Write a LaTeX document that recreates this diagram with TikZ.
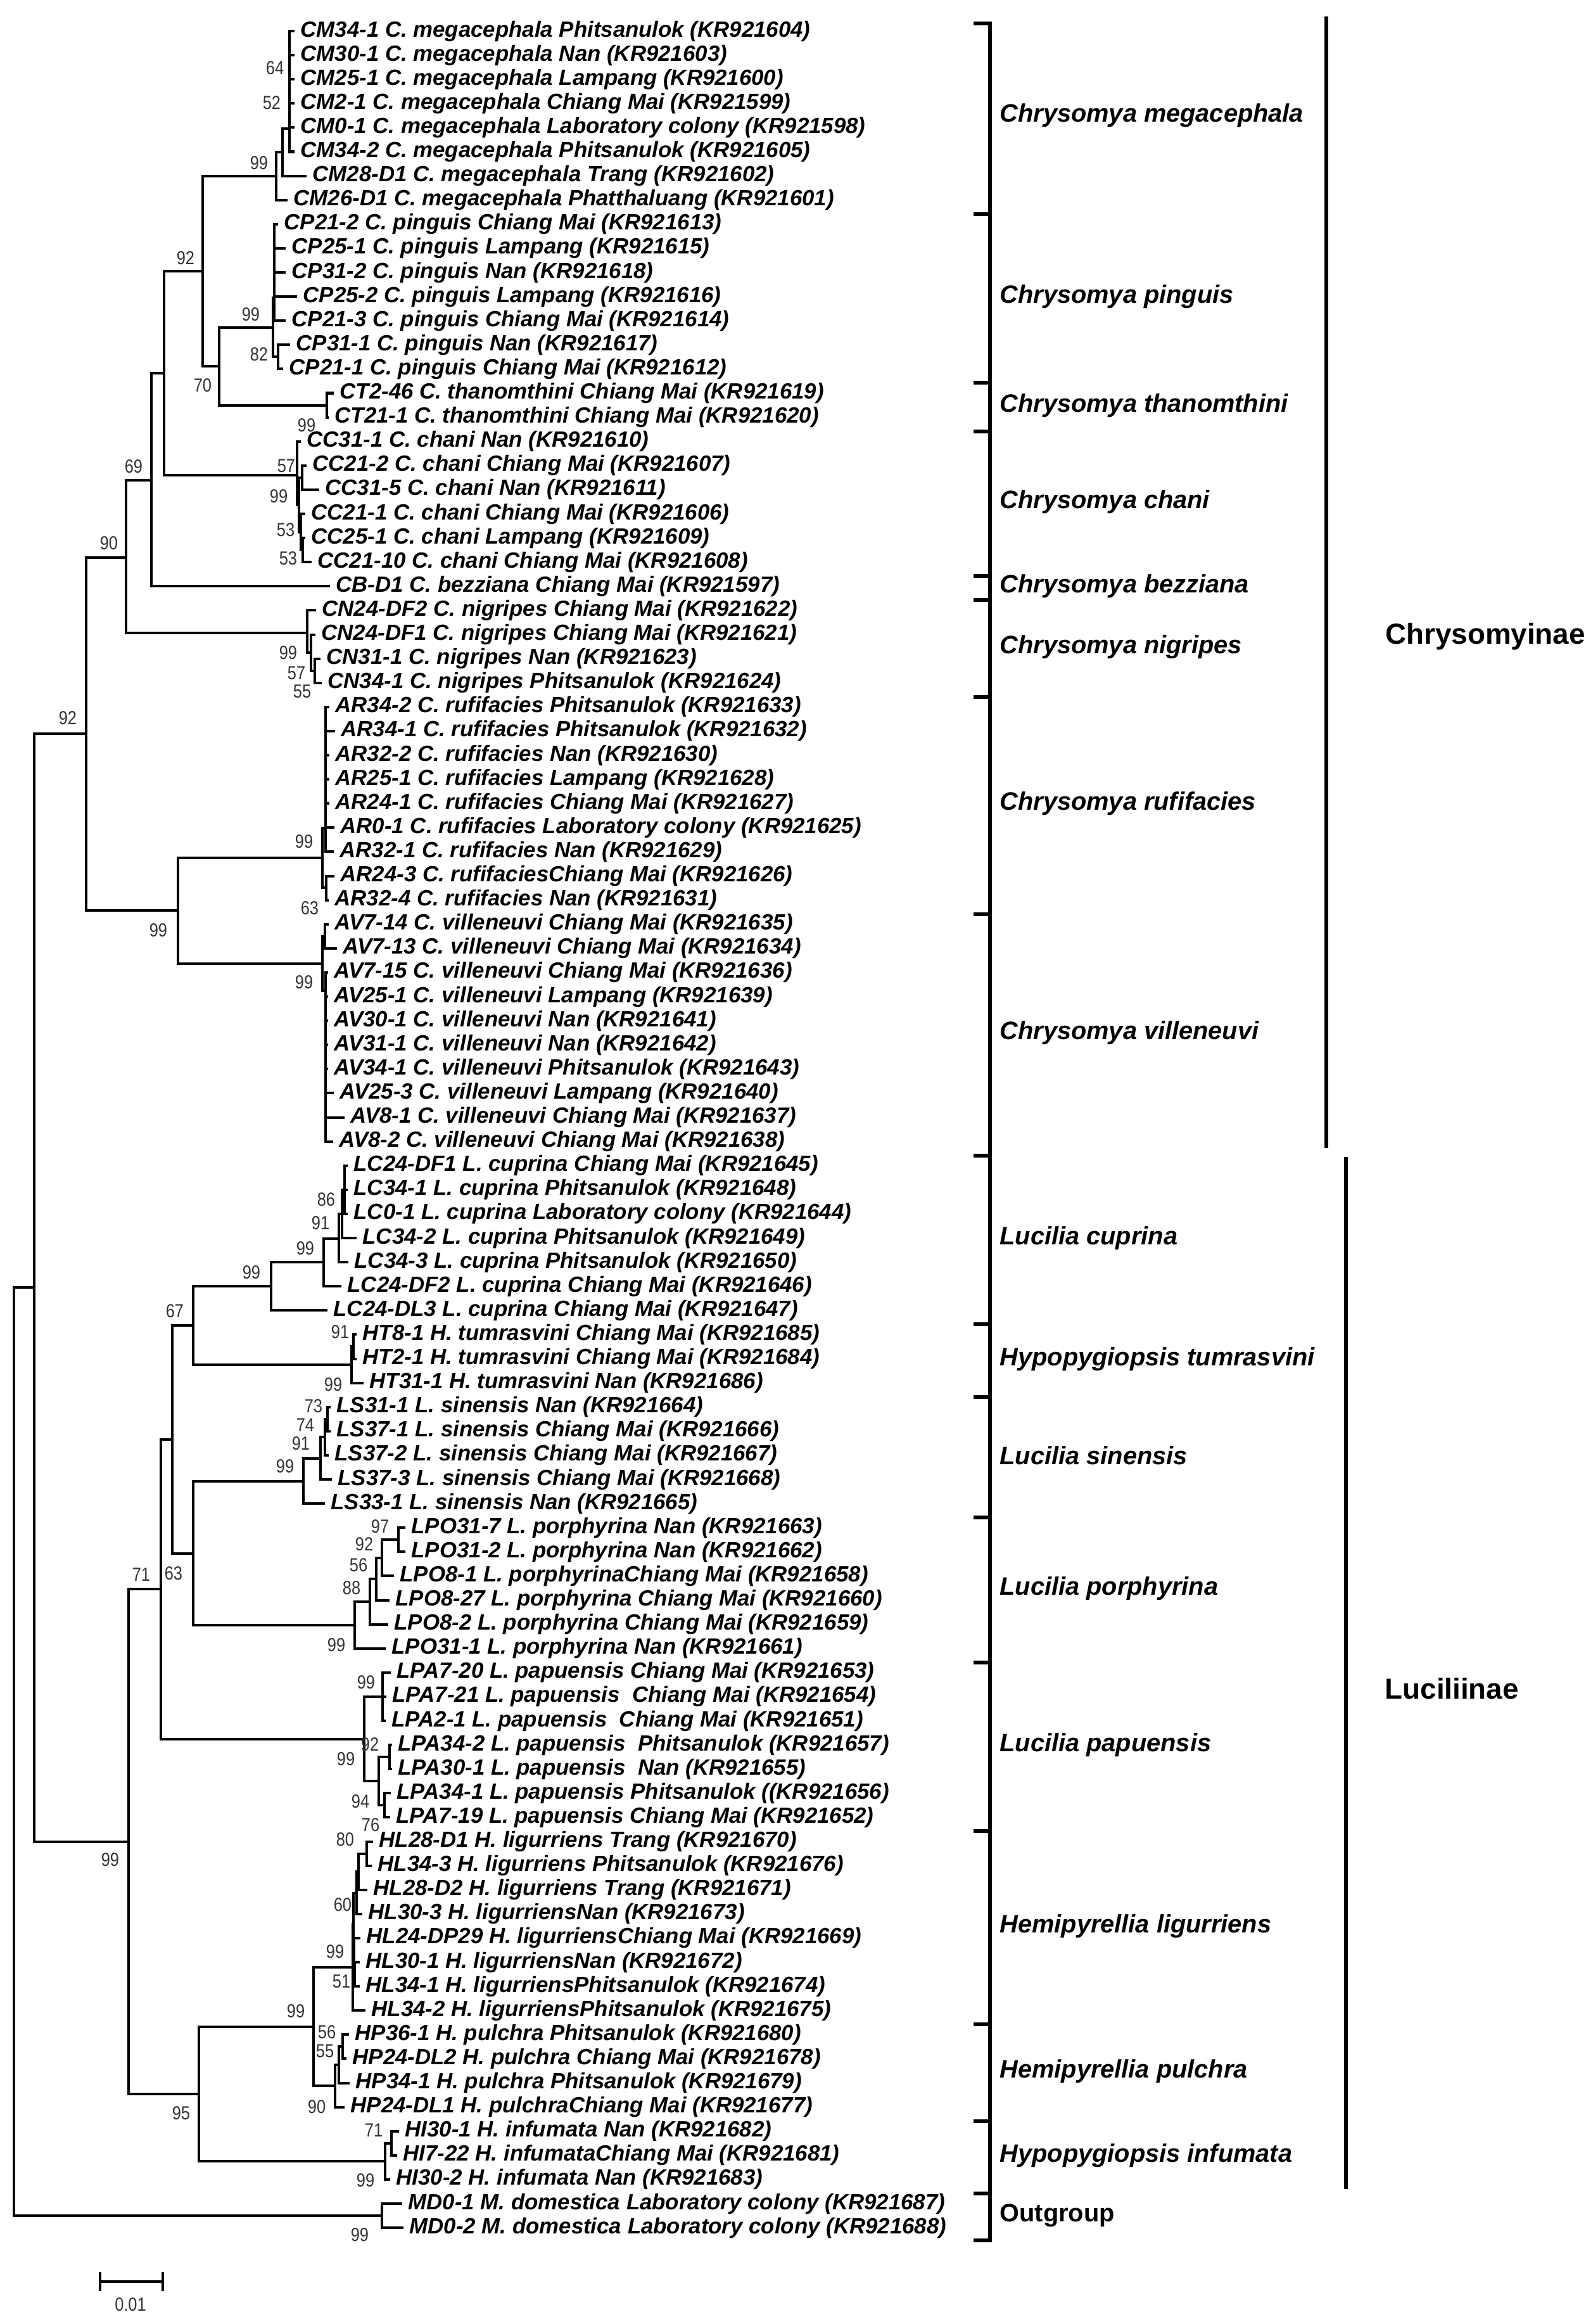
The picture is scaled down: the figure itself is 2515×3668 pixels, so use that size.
\documentclass[tikz,border=0pt]{standalone}
\usepackage{fontspec}
\setmainfont{Liberation Sans}
\newfontfamily\bootfont{Liberation Sans}[FakeStretch=0.85]
\usetikzlibrary{positioning}

\tikzset{
  branch/.style={line width=1.15pt, line cap=rect},
  leaf/.style={inner sep=0pt, font=\fontsize{9.9}{11}\selectfont\bfseries\itshape},
  boot/.style={inner sep=0pt, text=black!80, font=\bootfont\fontsize{8.5}{9}\selectfont},
  species/.style={anchor=west, inner sep=0pt, font=\fontsize{11.3}{13}\selectfont\bfseries\itshape},
  family/.style={anchor=west, inner sep=0pt, font=\fontsize{13}{15}\selectfont\bfseries},
  bracket/.style={line width=1.5pt, line cap=rect},
  subfam/.style={line width=1.8pt}
}

\begin{document}
\begin{tikzpicture}[x=0.01cm, y=-0.01cm]
\useasboundingbox (0,0) rectangle (2515,3668);

% leaves (tip of branch / label)
\foreach \tip/\txt [count=\i] in {
  463/{CM34-1 C. megacephala Phitsanulok (KR921604)},
  463/{CM30-1 C. megacephala Nan (KR921603)},
  463/{CM25-1 C. megacephala Lampang (KR921600)},
  463/{CM2-1 C. megacephala Chiang Mai (KR921599)},
  463/{CM0-1 C. megacephala Laboratory colony (KR921598)},
  463/{CM34-2 C. megacephala Phitsanulok (KR921605)},
  482/{CM28-D1 C. megacephala Trang (KR921602)},
  452/{CM26-D1 C. megacephala Phatthaluang (KR921601)},
  437/{CP21-2 C. pinguis Chiang Mai (KR921613)},
  449/{CP25-1 C. pinguis Lampang (KR921615)},
  449/{CP31-2 C. pinguis Nan (KR921618)},
  467/{CP25-2 C. pinguis Lampang (KR921616)},
  449/{CP21-3 C. pinguis Chiang Mai (KR921614)},
  456/{CP31-1 C. pinguis Nan (KR921617)},
  445/{CP21-1 C. pinguis Chiang Mai (KR921612)},
  525/{CT2-46 C. thanomthini Chiang Mai (KR921619)},
  517/{CT21-1 C. thanomthini Chiang Mai (KR921620)},
  473/{CC31-1 C. chani Nan (KR921610)},
  482/{CC21-2 C. chani Chiang Mai (KR921607)},
  502/{CC31-5 C. chani Nan (KR921611)},
  480/{CC21-1 C. chani Chiang Mai (KR921606)},
  480/{CC25-1 C. chani Lampang (KR921609)},
  490/{CC21-10 C. chani Chiang Mai (KR921608)},
  519/{CB-D1 C. bezziana Chiang Mai (KR921597)},
  497/{CN24-DF2 C. nigripes Chiang Mai (KR921622)},
  496/{CN24-DF1 C. nigripes Chiang Mai (KR921621)},
  504/{CN31-1 C. nigripes Nan (KR921623)},
  506/{CN34-1 C. nigripes Phitsanulok (KR921624)},
  518/{AR34-2 C. rufifacies Phitsanulok (KR921633)},
  527/{AR34-1 C. rufifacies Phitsanulok (KR921632)},
  518/{AR32-2 C. rufifacies Nan (KR921630)},
  518/{AR25-1 C. rufifacies Lampang (KR921628)},
  518/{AR24-1 C. rufifacies Chiang Mai (KR921627)},
  526/{AR0-1 C. rufifacies Laboratory colony (KR921625)},
  525/{AR32-1 C. rufifacies Nan (KR921629)},
  526/{AR24-3 C. rufifaciesChiang Mai (KR921626)},
  517/{AR32-4 C. rufifacies Nan (KR921631)},
  517/{AV7-14 C. villeneuvi Chiang Mai (KR921635)},
  530/{AV7-13 C. villeneuvi Chiang Mai (KR921634)},
  516/{AV7-15 C. villeneuvi Chiang Mai (KR921636)},
  516/{AV25-1 C. villeneuvi Lampang (KR921639)},
  516/{AV30-1 C. villeneuvi Nan (KR921641)},
  516/{AV31-1 C. villeneuvi Nan (KR921642)},
  516/{AV34-1 C. villeneuvi Phitsanulok (KR921643)},
  525/{AV25-3 C. villeneuvi Lampang (KR921640)},
  542/{AV8-1 C. villeneuvi Chiang Mai (KR921637)},
  524/{AV8-2 C. villeneuvi Chiang Mai (KR921638)},
  547/{LC24-DF1 L. cuprina Chiang Mai (KR921645)},
  547/{LC34-1 L. cuprina Phitsanulok (KR921648)},
  547/{LC0-1 L. cuprina Laboratory colony (KR921644)},
  561/{LC34-2 L. cuprina Phitsanulok (KR921649)},
  548/{LC34-3 L. cuprina Phitsanulok (KR921650)},
  537/{LC24-DF2 L. cuprina Chiang Mai (KR921646)},
  515/{LC24-DL3 L. cuprina Chiang Mai (KR921647)},
  561/{HT8-1 H. tumrasvini Chiang Mai (KR921685)},
  561/{HT2-1 H. tumrasvini Chiang Mai (KR921684)},
  572/{HT31-1 H. tumrasvini Nan (KR921686)},
  520/{LS31-1 L. sinensis Nan (KR921664)},
  520/{LS37-1 L. sinensis Chiang Mai (KR921666)},
  517/{LS37-2 L. sinensis Chiang Mai (KR921667)},
  522/{LS37-3 L. sinensis Chiang Mai (KR921668)},
  511/{LS33-1 L. sinensis Nan (KR921665)},
  638/{LPO31-7 L. porphyrina Nan (KR921663)},
  638/{LPO31-2 L. porphyrina Nan (KR921662)},
  620/{LPO8-1 L. porphyrinaChiang Mai (KR921658)},
  613/{LPO8-27 L. porphyrina Chiang Mai (KR921660)},
  611/{LPO8-2 L. porphyrina Chiang Mai (KR921659)},
  607/{LPO31-1 L. porphyrina Nan (KR921661)},
  615/{LPA7-20 L. papuensis Chiang Mai (KR921653)},
  608/{LPA7-21 L. papuensis~ Chiang Mai (KR921654)},
  607/{LPA2-1 L. papuensis~ Chiang Mai (KR921651)},
  617/{LPA34-2 L. papuensis~ Phitsanulok (KR921657)},
  617/{LPA30-1 L. papuensis~ Nan (KR921655)},
  615/{LPA34-1 L. papuensis Phitsanulok ((KR921656)},
  614/{LPA7-19 L. papuensis Chiang Mai (KR921652)},
  587/{HL28-D1 H. ligurriens Trang (KR921670)},
  585/{HL34-3 H. ligurriens Phitsanulok (KR921676)},
  578/{HL28-D2 H. ligurriens Trang (KR921671)},
  570/{HL30-3 H. ligurriensNan (KR921673)},
  567/{HL24-DP29 H. ligurriensChiang Mai (KR921669)},
  566/{HL30-1 H. ligurriensNan (KR921672)},
  566/{HL34-1 H. ligurriensPhitsanulok (KR921674)},
  575/{HL34-2 H. ligurriensPhitsanulok (KR921675)},
  549/{HP36-1 H. pulchra Phitsanulok (KR921680)},
  545/{HP24-DL2 H. pulchra Chiang Mai (KR921678)},
  550/{HP34-1 H. pulchra Phitsanulok (KR921679)},
  542/{HP24-DL1 H. pulchraChiang Mai (KR921677)},
  628/{HI30-1 H. infumata Nan (KR921682)},
  625/{HI7-22 H. infumataChiang Mai (KR921681)},
  614/{HI30-2 H. infumata Nan (KR921683)},
  633/{MD0-1 M. domestica Laboratory colony (KR921687)},
  635/{MD0-2 M. domestica Laboratory colony (KR921688)}}{
  \coordinate (t\i) at (\tip,{49+38.1*(\i-1)});
  \node[leaf, right=0.11cm of t\i] (l\i) {\txt};
}

% internal nodes
\foreach \n/\x/\y in {root/22/2765, ing/54/2032, og/603/3497,
  chry/136/1158, n90/199/880, n69/239/758, nu/259/589, n92/320/428,
  mega/436/278, mf/446/240, me/457/203, n70/346/578,
  ping/431/517, pd/433/470, pq/439/563, thn/516/640,
  chani/469/750, ch2/472/797, ch3/477/754, ch4/475/840, ch5/478/868,
  nig/485/999, nn2/491/1030, nn1/497/1059,
  nrv/281/1437, rufi/509/1354, ra/514/1307, rb/515/1401,
  ville/509/1521, va/513/1478, vb/514/1564,
  luc/203/2907, n71/254/2508, nx/272/2272, n67/305/2092,
  cup/428/2030, c3/511/1992, cc/535/1955, cb/540/1916, ca/544/1878,
  tum/555/2154, tu1/558/2125,
  n63/305/2452, sin/479/2338, s3/506/2302, s2/513/2268, s1/517/2240,
  por/560/2565, p4/584/2528, p3/594/2492, p2/603/2459, p1/629/2430,
  pap/575/2745, pa1/604/2678, pa3/598/2811, pa2/615/2773, pa4/607/2849,
  n95/314/3305, hemi/495/3199,
  lig/557/3105, lt/558/3037, lc/563/2988, lb/566/2954, la/579/2926,
  ld/559/3088, le/560/3116,
  pul/529/3292, pu2/535/3259, pu1/541/3230,
  inf/608/3411, inf1/618/3383}
  \coordinate (\n) at (\x,\y);

% branches
\foreach \p/\c in {root/ing, root/og, ing/chry, ing/luc,
  chry/n90, chry/nrv, n90/n69, n90/nig, n69/nu, n69/t24, nu/n92, nu/chani,
  n92/mega, n92/n70, mega/mf, mega/t8, mf/me, mf/t7,
  me/t1, me/t2, me/t3, me/t4, me/t5, me/t6,
  n70/ping, n70/thn, ping/pd, ping/pq,
  pd/t9, pd/t10, pd/t11, pd/t12, pd/t13, pq/t14, pq/t15, thn/t16, thn/t17,
  chani/t18, chani/ch2, ch2/ch3, ch2/ch4, ch3/t19, ch3/t20,
  ch4/t21, ch4/ch5, ch5/t22, ch5/t23,
  nig/t25, nig/nn2, nn2/t26, nn2/nn1, nn1/t27, nn1/t28,
  nrv/rufi, nrv/ville, rufi/ra, rufi/rb,
  ra/t29, ra/t30, ra/t31, ra/t32, ra/t33, ra/t34, ra/t35, rb/t36, rb/t37,
  ville/va, ville/vb, va/t38, va/t39,
  vb/t40, vb/t41, vb/t42, vb/t43, vb/t44, vb/t45, vb/t46, vb/t47,
  luc/n71, luc/n95, n71/nx, n71/pap, nx/n67, nx/n63,
  n67/cup, n67/tum, cup/c3, cup/t54, c3/cc, c3/t53, cc/cb, cc/t52,
  cb/ca, cb/t51, ca/t48, ca/t49, ca/t50,
  tum/tu1, tum/t57, tu1/t55, tu1/t56,
  n63/sin, n63/por, sin/s3, sin/t62, s3/s2, s3/t61, s2/s1, s2/t60, s1/t58, s1/t59,
  por/p4, por/t68, p4/p3, p4/t67, p3/p2, p3/t66, p2/p1, p2/t65, p1/t63, p1/t64,
  pap/pa1, pap/pa3, pa1/t69, pa1/t70, pa1/t71,
  pa3/pa2, pa3/pa4, pa2/t72, pa2/t73, pa4/t74, pa4/t75,
  n95/hemi, n95/inf, hemi/lig, hemi/pul,
  lig/lt, lig/t83, lt/lc, lt/ld, lc/lb, lc/t79, lb/la, lb/t78, la/t76, la/t77,
  ld/t80, ld/le, le/t81, le/t82,
  pul/pu2, pul/t87, pu2/pu1, pu2/t86, pu1/t84, pu1/t85,
  inf/inf1, inf/t90, inf1/t88, inf1/t89,
  og/t91, og/t92}
  \draw[branch] (\p) |- (\c);

% bootstrap values
\foreach \x/\y/\v [count=\i] in {434/107/64, 429/162/52, 409/257/99,
  293/407/92, 396/496/99, 409/559/82, 320/608/70,
  484/671/99, 211/736/69, 172/857/90,
  452/735/57, 440/783/99, 451/836/53, 455/881/53,
  455/1030/99, 468/1062/57, 477/1091/55,
  107/1133/92, 480/1328/99, 489/1433/63, 250/1468/99, 480/1550/99,
  515/1893/86, 506/1930/91, 482/1970/99, 397/2008/99, 276/2069/67,
  537/2102/91, 526/2185/99,
  495/2219/73, 482/2249/74, 475/2278/91, 450/2314/99,
  600/2409/97, 575/2437/92, 566/2470/56, 555/2506/88, 531/2596/99,
  223/2485/71, 274/2483/63,
  578/2655/99, 584/2753/92, 546/2776/99, 569/2843/94, 585/2880/76, 545/2903/80,
  174/2935/99,
  541/3006/60, 529/3080/99, 539/3127/51, 467/3174/99,
  516/3207/56, 513/3237/55, 500/3325/90, 590/3362/71, 577/3441/99,
  286/3335/95, 568/3527/99}
  \node[boot] (b\i) at (\x,\y) {\v};

% species brackets
\coordinate (brtop) at (1563,37);
\coordinate (brbot) at (1563,3536);
\draw[bracket] (brtop) -- (brbot);
\foreach \y in {37,338,604,681,909,947,1100,1443,1824,2090,2205,2395,2624,2890,3195,3348,3462,3536}
  \draw[bracket] (1540,\y) -- (brtop |- 0,\y);

\foreach \y/\txt [count=\i] in {182/Chrysomya megacephala, 468/Chrysomya pinguis,
  640/Chrysomya thanomthini, 792/Chrysomya chani, 925/Chrysomya bezziana,
  1021/Chrysomya nigripes, 1268/Chrysomya rufifacies, 1630/Chrysomya villeneuvi,
  1954/Lucilia cuprina, 2145/Hypopygiopsis tumrasvini, 2297/Lucilia sinensis,
  2507/Lucilia porphyrina, 2754/Lucilia papuensis, 3040/Hemipyrellia ligurriens,
  3269/Hemipyrellia pulchra, 3402/Hypopygiopsis infumata}
  \node[species] (sp\i) at (1578,\y) {\txt};
\node[species, font=\fontsize{11.3}{13}\selectfont\bfseries] (spout) at (1578,3497) {Outgroup};

% subfamilies
\draw[subfam] (2094,26) coordinate (chtop) -- (2094,1812) coordinate (chbot);
\draw[subfam] (2125,1826) coordinate (lutop) -- (2125,3455) coordinate (lubot);
\node[family] (chrysomyinae) at (2187,1005) {Chrysomyinae};
\node[family] (luciliinae) at (2186,2665) {Luciliinae};

% scale bar
\coordinate (sb1) at (158,3601);
\coordinate (sb2) at (257,3601);
\draw[branch] (sb1) -- (sb2);
\draw[branch] ([yshift=0.13cm]sb1) -- ([yshift=-0.13cm]sb1);
\draw[branch] ([yshift=0.13cm]sb2) -- ([yshift=-0.13cm]sb2);
\node[boot] (sblabel) at (206,3637) {0.01};
\end{tikzpicture}
\end{document}
